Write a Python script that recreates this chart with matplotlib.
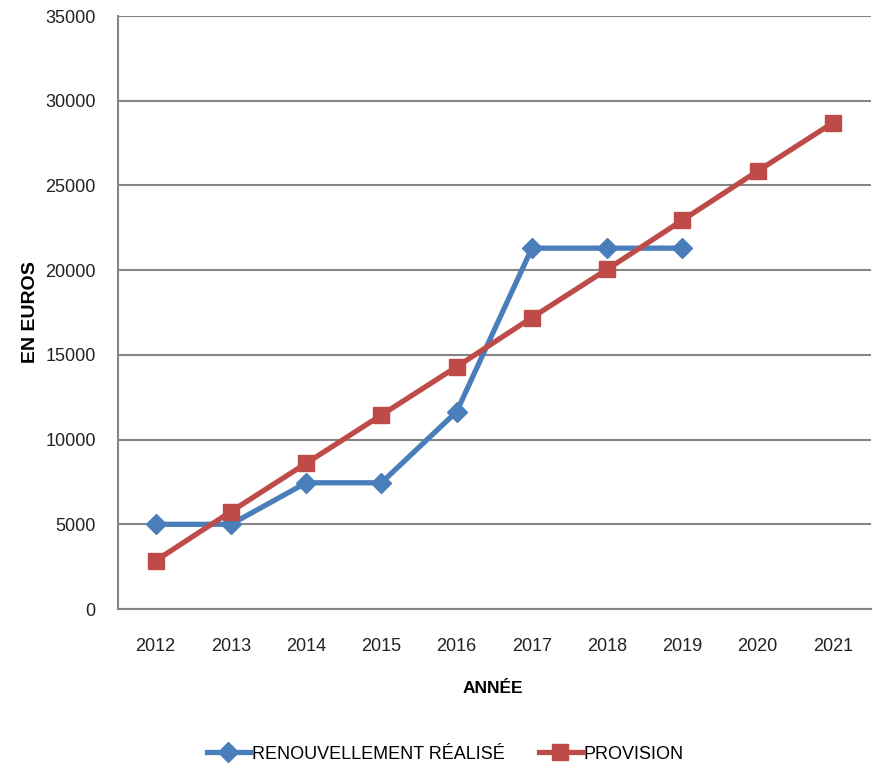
import matplotlib
matplotlib.use("Agg")
import matplotlib.pyplot as plt
from matplotlib.ticker import MultipleLocator

plt.rcParams['font.family'] = ['Liberation Sans', 'DejaVu Sans']

years = ['2012', '2013', '2014', '2015', '2016', '2017', '2018', '2019', '2020', '2021']
renouvellement = [5000, 5000, 7450, 7450, 11650, 21300, 21300, 21300]
provision = [2850, 5750, 8600, 11450, 14300, 17200, 20050, 22950, 25850, 28700]

blue = '#4a7ebb'
red = '#be4b48'
grid_col = '#868686'

fig = plt.figure(figsize=(8.73, 7.71), dpi=100)
ax = fig.add_axes([0.1352, 0.2101, 0.862, 0.7691])

x = list(range(len(years)))
ax.plot(x[:len(renouvellement)], renouvellement, color=blue, lw=3.8, marker='D',
        markersize=10, markeredgecolor=blue, label='RENOUVELLEMENT RÉALISÉ', zorder=3)
ax.plot(x, provision, color=red, lw=3.8, marker='s', markersize=12,
        markeredgecolor=red, label='PROVISION', zorder=4)

ax.set_xlim(-0.5, len(years) - 0.5)
ax.set_ylim(0, 35000)
ax.yaxis.set_major_locator(MultipleLocator(5000))
ax.set_xticks(x)
ax.set_xticklabels(years)

ax.grid(axis='y', color=grid_col, lw=1.5)
ax.set_axisbelow(True)
for s in ['top', 'right']:
    ax.spines[s].set_visible(False)
for s in ['left', 'bottom']:
    ax.spines[s].set_color(grid_col)
    ax.spines[s].set_linewidth(1.5)
ax.tick_params(length=0, labelsize=13, colors='#222222')
ax.tick_params(axis='x', pad=21)
ax.tick_params(axis='y', pad=16)

ax.set_xlabel('ANNÉE', fontsize=12.5, fontweight='bold')
ax.xaxis.set_label_coords(0.498, -0.122)
ax.set_ylabel('EN EUROS', fontsize=14, fontweight='bold')
ax.yaxis.set_label_coords(-0.105, 0.5)

fig.legend(loc='center', bbox_to_anchor=(0.51, 0.022), ncol=2, frameon=False,
           fontsize=13, handlelength=2.4, columnspacing=1.9, handletextpad=0.1)

fig.savefig('out.png', dpi=100)
